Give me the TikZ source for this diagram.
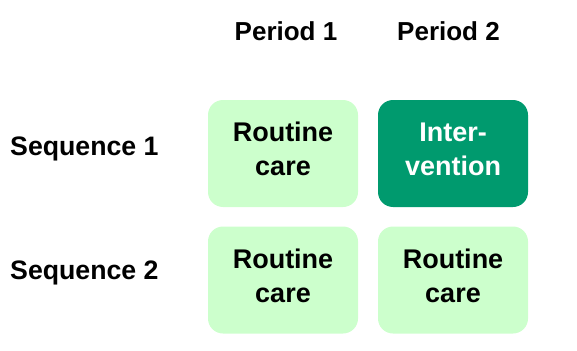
\documentclass[tikz,border=0pt]{standalone}
\usepackage{fontspec}
\setmainfont{Liberation Sans}
\usepackage{xcolor}
\usetikzlibrary{positioning}

\definecolor{routinegreen}{HTML}{CCFFCC}
\definecolor{interventiongreen}{HTML}{009A6E}

\begin{document}
\begin{tikzpicture}[x=1pt,y=-1pt]
  \tikzset{
    cell/.style={
      rounded corners=15pt,
      minimum width=150pt,
      minimum height=107pt,
      align=center,
      text depth=9pt,
      font=\fontsize{27}{34}\selectfont\bfseries
    },
    routine/.style={cell,fill=routinegreen,text=black},
    treated/.style={cell,fill=interventiongreen,text=white},
    heading/.style={font=\fontsize{26}{34}\selectfont\bfseries},
    rowlabel/.style={font=\fontsize{26.7}{34}\selectfont\bfseries,
      anchor=base west,inner xsep=0pt},
  }
  \useasboundingbox (0,0) rectangle (577,350);

  \node[routine] (r1p1) at (283,153.5) {Routine\\care};
  \node[treated] (r1p2) at (453,153.5) {Inter-\\vention};
  \node[routine] (r2p1) at (283,280) {Routine\\care};
  \node[routine] (r2p2) at (453,280) {Routine\\care};

  \node[heading,anchor=base] (p1) at (286,40.7) {Period 1};
  \node[heading,anchor=base] (p2) at (448.5,40.7) {Period 2};

  \node[rowlabel] (s1) at (10,155) {Sequence 1};
  \node[rowlabel] (s2) at (10,279) {Sequence 2};
\end{tikzpicture}
\end{document}
